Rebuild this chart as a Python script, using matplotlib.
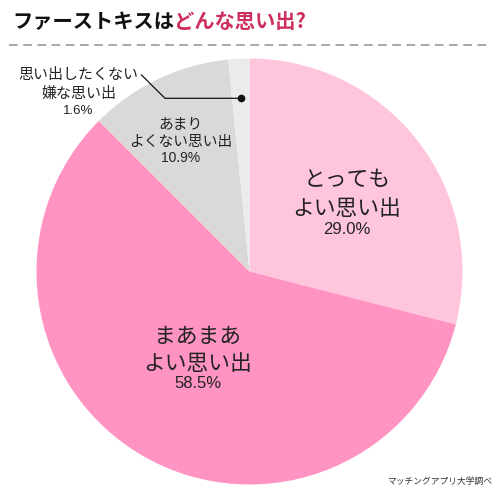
import matplotlib
matplotlib.use("Agg")
import matplotlib.pyplot as plt
from matplotlib.lines import Line2D

plt.rcParams['font.family'] = ['Noto Sans CJK JP', 'DejaVu Sans']

# ---- data ----
categories = ["とっても\nよい思い出", "まあまあ\nよい思い出", "あまり\nよくない思い出", "思い出したくない\n嫌な思い出"]
values = [29.0, 58.5, 10.9, 1.6]
pct_labels = ["29.0%", "58.5%", "10.9%", "1.6%"]
colors = ["#FFC5DD", "#FF93C2", "#D9D9D9", "#EBEBEB"]
title_black = "ファーストキスは"
title_red = "どんな思い出?"
source = "マッチングアプリ大学調べ"

W, H = 500, 496
fig = plt.figure(figsize=(W / 100, H / 100), dpi=100)
ax = fig.add_axes([0, 0, 1, 1])

def Y(y):
    return H - y

cx, cy, R = 249.5, 271.5, 213
ax.pie(values, colors=colors, startangle=90, counterclock=False,
       center=(cx, Y(cy)), radius=R, wedgeprops=dict(linewidth=0))
ax.set_xlim(0, W)
ax.set_ylim(0, H)
ax.set_aspect('equal')
ax.axis('off')

txt = "#222222"
pct_family = ['Liberation Sans', 'Noto Sans CJK JP']

# big labels
big = [(347, [180, 209], 229), (198, [337, 364], 384)]
for i, (x, ys, yp) in enumerate(big):
    for line, yy in zip(categories[i].split("\n"), ys):
        ax.text(x, Y(yy), line, ha='center', va='center', fontsize=15.7, color=txt)
    ax.text(x, Y(yp), pct_labels[i], ha='center', va='center', fontsize=12,
            color=txt, family=pct_family)

# small labels
small = [(180.5, [125, 142], 158.5, 10.6, 10), (78.5, [75.5, 94], 111.5, 10.8, 9.5)]
for j, (x, ys, yp, fs, pfs) in enumerate(small):
    i = j + 2
    for line, yy in zip(categories[i].split("\n"), ys):
        ax.text(x, Y(yy), line, ha='center', va='center', fontsize=fs, color=txt)
    ax.text(x, Y(yp), pct_labels[i], ha='center', va='center', fontsize=pfs,
            color=txt, family=pct_family)

# leader line
ax.add_line(Line2D([141.5, 165, 241], [Y(75), Y(98.3), Y(98.3)], color='#111111', lw=0.9))
ax.plot([241], [Y(98.3)], 'o', color='#111111', ms=4.5)

# dashed separator
ax.add_line(Line2D([9, 491], [Y(45), Y(45)], color='#A8A8A8', lw=1.4,
                   dashes=(4.5, 2.8)))

# title
t1 = ax.text(12, Y(22), title_black, ha='left', va='center', fontsize=14.6,
             fontweight='bold', color='#111111')
fig.canvas.draw()
bb = t1.get_window_extent(renderer=fig.canvas.get_renderer())
x2 = ax.transData.inverted().transform((bb.x1, 0))[0]
ax.text(x2, Y(22), title_red, ha='left', va='center', fontsize=14.6,
        fontweight='bold', color='#CF2F5C')

# source
ax.text(492, Y(481), source, ha='right', va='center', fontsize=6.3, color='#333333')

fig.savefig("out.png", dpi=100)
